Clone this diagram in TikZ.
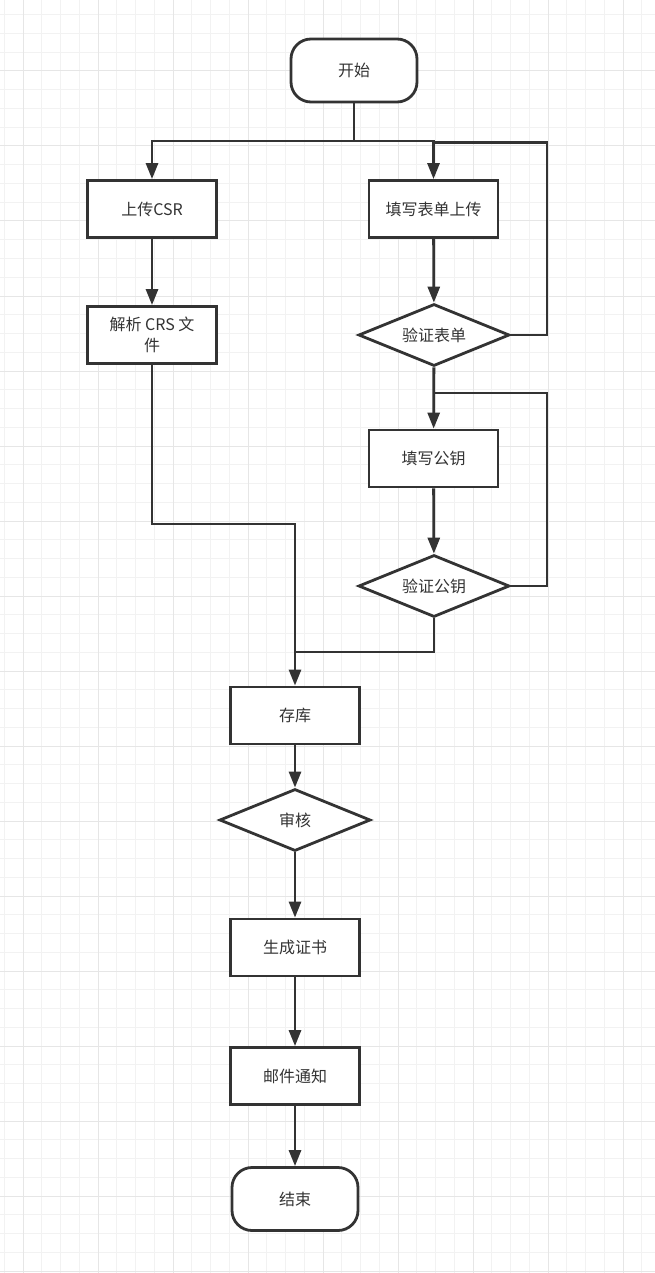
\documentclass[tikz,border=0pt]{standalone}
\usepackage{fontspec}
\newfontfamily\cjk{Noto Sans CJK SC}
\usetikzlibrary{shapes.geometric,arrows.meta}
\definecolor{ink}{HTML}{333333}
\definecolor{gridminor}{HTML}{F2F2F2}
\definecolor{gridmajor}{HTML}{E6E6E6}
\tikzset{
  base/.style={draw=ink, line width=2.8pt, fill=white, text=ink, inner sep=0pt,
    font=\cjk\fontsize{16}{21}\selectfont, align=center},
  procbox/.style={base, rectangle, minimum width=129pt, minimum height=57pt},
  termbox/.style={base, rectangle, rounded corners=20pt, minimum width=126pt, minimum height=63pt},
  decbox/.style={base, diamond, aspect=2.44, minimum width=151pt, minimum height=62pt},
  conn/.style={draw=ink, line width=2.8pt},
  arr/.style={conn, -{Triangle[length=16pt,width=12pt]}},
}
\begin{document}
\begin{tikzpicture}[x=1pt,y=-1pt]
\useasboundingbox (0,0) rectangle (655,1273);
\fill[white] (0,0) rectangle (655,1273);
% grid
\foreach \i in {0,...,34} {
  \draw[gridminor, line width=1pt] ({4.25+18.75*\i},0) -- ({4.25+18.75*\i},1273);
}
\foreach \j in {0,...,67} {
  \draw[gridminor, line width=1pt] (0,{14.75+18.75*\j}) -- (655,{14.75+18.75*\j});
}
\foreach \i in {0,...,8} {
  \draw[gridmajor, line width=1pt] ({23+75*\i},0) -- ({23+75*\i},1273);
}
\foreach \j in {0,...,16} {
  \draw[gridmajor, line width=1pt] (0,{71+75*\j}) -- (655,{71+75*\j});
}
% nodes
\node[termbox] (start) at (354,70.5) {开始};
\node[procbox] (csr) at (152,209) {上传CSR};
\node[procbox] (parse) at (152,335) {解析 CRS 文\\件};
\node[procbox] (form) at (433.5,209) {填写表单上传};
\node[decbox] (vform) at (434,335) {验证表单};
\node[procbox] (key) at (433.5,458.5) {填写公钥};
\node[decbox] (vkey) at (434,586) {验证公钥};
\node[procbox] (store) at (295,715.5) {存库};
\node[decbox] (audit) at (295,820) {审核};
\node[procbox] (cert) at (295,947.5) {生成证书};
\node[procbox] (mail) at (295,1076) {邮件通知};
\node[termbox] (end) at (295,1199) {结束};
% coordinates
\coordinate (split) at (354,141);
\coordinate (loopa) at (547,142.5);
\coordinate (loopaend) at (434,142.5);
\coordinate (loopb) at (547,393);
\coordinate (loopbend) at (434,393);
\coordinate (joinb) at (295,652);
\coordinate (joina) at (295,524);
% connectors
\draw[conn] (start.south) -- (split);
\draw[arr] (split) -| (csr.north);
\draw[arr] (split) -| (form.north);
\draw[arr] (csr) -- (parse);
\draw[arr] (form) -- (vform);
\draw[conn] (vform.east) -| (loopa) -- (loopaend);
\draw[arr] (vform) -- (key);
\draw[arr] (key) -- (vkey);
\draw[conn] (vkey.east) -| (loopb) -- (loopbend);
\draw[conn] (vkey.south) |- (joinb);
\draw[arr] (parse.south) |- (joina) -- (store.north);
\draw[arr] (store) -- (audit);
\draw[arr] (audit) -- (cert);
\draw[arr] (cert) -- (mail);
\draw[arr] (mail) -- (end);
\end{tikzpicture}
\end{document}
